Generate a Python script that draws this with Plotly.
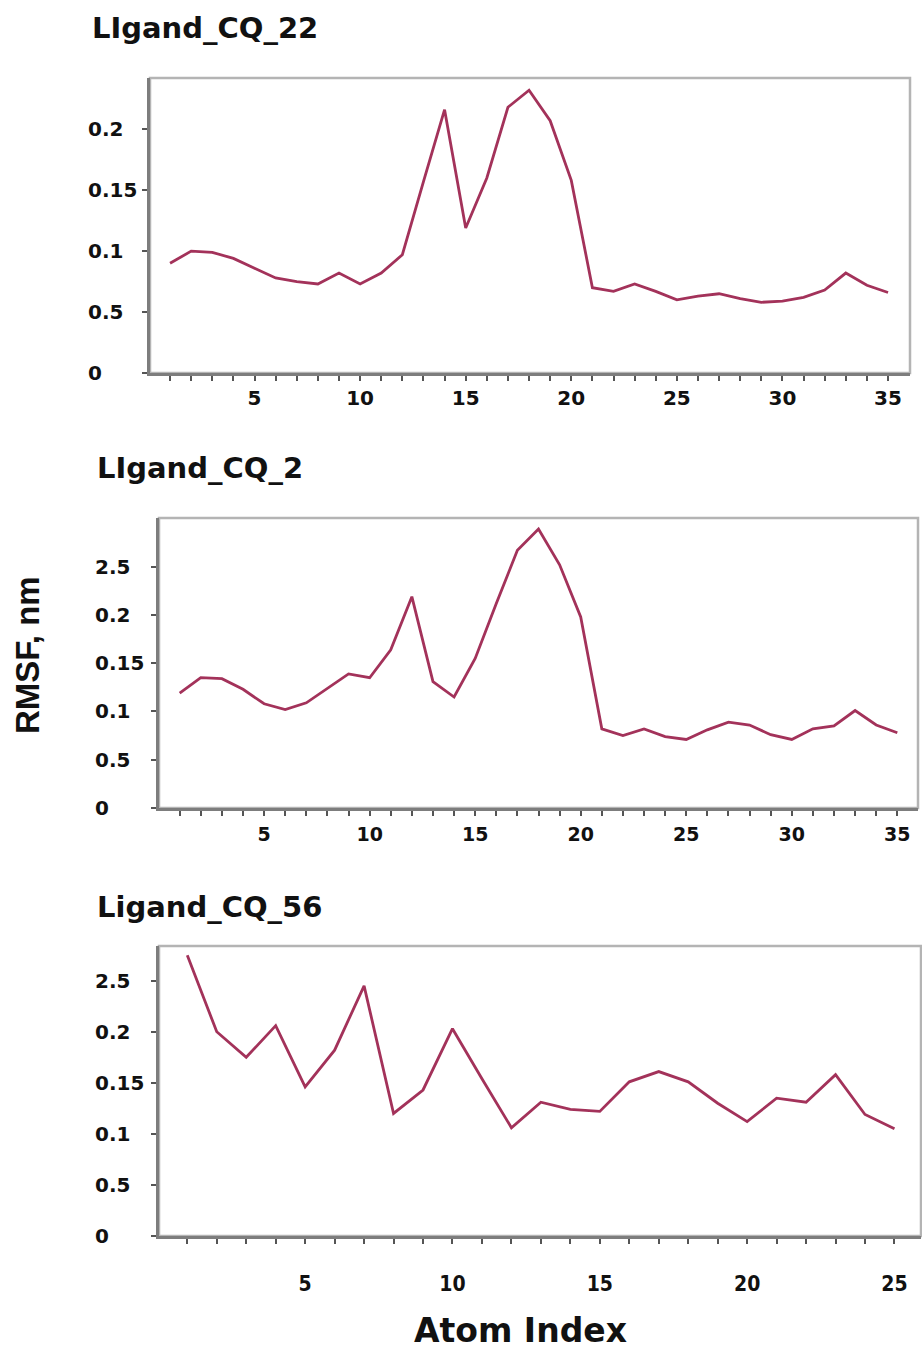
import plotly.graph_objects as go

# ---------------- data ----------------
atoms_35 = list(range(1, 36))
atoms_25 = list(range(1, 26))

rmsf_cq22 = [0.090, 0.100, 0.099, 0.094, 0.086, 0.078, 0.075, 0.073, 0.082, 0.073,
             0.082, 0.097, 0.157, 0.216, 0.119, 0.160, 0.218, 0.232, 0.207, 0.158,
             0.070, 0.067, 0.073, 0.067, 0.060, 0.063, 0.065, 0.061, 0.058, 0.059,
             0.062, 0.068, 0.082, 0.072, 0.066]

rmsf_cq2 = [0.119, 0.135, 0.134, 0.123, 0.108, 0.102, 0.109, 0.124, 0.139, 0.135,
            0.164, 0.219, 0.131, 0.115, 0.155, 0.212, 0.267, 0.289, 0.252, 0.198,
            0.082, 0.075, 0.082, 0.074, 0.071, 0.081, 0.089, 0.086, 0.076, 0.071,
            0.082, 0.085, 0.101, 0.086, 0.078]

rmsf_cq56 = [0.275, 0.200, 0.175, 0.206, 0.146, 0.182, 0.245, 0.120, 0.143, 0.203,
             0.154, 0.106, 0.131, 0.124, 0.122, 0.151, 0.161, 0.151, 0.130, 0.112,
             0.135, 0.131, 0.158, 0.119, 0.105]

titles = ["LIgand_CQ_22", "LIgand_CQ_2", "Ligand_CQ_56"]

ytick_vals_1 = [0, 0.05, 0.10, 0.15, 0.20]
ytick_text_1 = ["0", "0.5", "0.1", "0.15", "0.2"]
ytick_vals_23 = [0, 0.05, 0.10, 0.15, 0.20, 0.25]
ytick_text_23 = ["0", "0.5", "0.1", "0.15", "0.2", "2.5"]

x_label_step = 5

# ---------------- styling / layout ----------------
W, H = 922, 1350
LINE_COLOR = "#a3325a"
BOLD = "DejaVu Sans"
NARROW = "Liberation Sans Narrow, DejaVu Sans Condensed, DejaVu Sans"

def px_x(p):
    return p / W

def px_y(p):
    return 1 - p / H

panels = [
    dict(x=atoms_35, y=rmsf_cq22, xdom=(150, 910), ydom=(78, 373),
         xr=[0.05, 36.04], yr=[0, 0.242], yt=(ytick_vals_1, ytick_text_1),
         lab_x=86, title_xy=(90, 28), xfont=BOLD, xsize=20, standoff=0),
    dict(x=atoms_35, y=rmsf_cq2, xdom=(159, 918), ydom=(518, 808),
         xr=[0.02, 35.98], yr=[0, 0.3005], yt=(ytick_vals_23, ytick_text_23),
         lab_x=93, title_xy=(95, 468), xfont=BOLD, xsize=19, standoff=2),
    dict(x=atoms_25, y=rmsf_cq56, xdom=(159, 921), ydom=(946, 1236),
         xr=[0.04, 25.9], yr=[0, 0.284], yt=(ytick_vals_23, ytick_text_23),
         lab_x=93, title_xy=(95, 907), xfont=NARROW, xsize=21, standoff=22),
]

fig = go.Figure()
annotations = []
shapes = []

for i, p in enumerate(panels, start=1):
    xa = "x" if i == 1 else f"x{i}"
    ya = "y" if i == 1 else f"y{i}"
    fig.add_trace(go.Scatter(x=p["x"], y=p["y"], mode="lines",
                             line=dict(color=LINE_COLOR, width=2.8),
                             xaxis=xa, yaxis=ya, showlegend=False,
                             hoverinfo="x+y"))
    xkey = "xaxis" if i == 1 else f"xaxis{i}"
    ykey = "yaxis" if i == 1 else f"yaxis{i}"
    tickvals = p["x"]
    ticktext = [str(v) if v % x_label_step == 0 else "" for v in tickvals]
    fig.update_layout({
        xkey: dict(domain=[px_x(p["xdom"][0]), px_x(p["xdom"][1])],
                   range=p["xr"], anchor=ya, showgrid=False, zeroline=False,
                   showline=True, linecolor="#7d7d7d", linewidth=3,
                   ticks="outside", ticklen=5, tickwidth=2, tickcolor="#555555",
                   tickmode="array", tickvals=tickvals, ticktext=ticktext,
                   ticklabelstandoff=p["standoff"],
                   tickfont=dict(family=p["xfont"], size=p["xsize"],
                                 color="#111111", weight="bold")),
        ykey: dict(domain=[px_y(p["ydom"][1]), px_y(p["ydom"][0])],
                   range=p["yr"], anchor=xa, showgrid=False, zeroline=False,
                   showline=True, linecolor="#7d7d7d", linewidth=3,
                   ticks="outside", ticklen=5, tickwidth=2, tickcolor="#555555",
                   tickmode="array", tickvals=p["yt"][0], showticklabels=False),
    })
    # light frame (top / right)
    shapes.append(dict(type="rect", xref=f"{xa} domain", yref=f"{ya} domain",
                       x0=0, x1=1, y0=0, y1=1, layer="below",
                       line=dict(color="#b4b4b4", width=2.5)))
    # left-aligned y tick labels
    for v, t in zip(*p["yt"]):
        annotations.append(dict(x=px_x(p["lab_x"]), xref="paper", y=v, yref=ya,
                                text=t, showarrow=False, xanchor="left",
                                yanchor="middle",
                                font=dict(family=BOLD, size=20, color="#111111",
                                          weight="bold")))
    # panel title
    tx, ty = p["title_xy"]
    annotations.append(dict(x=px_x(tx), y=px_y(ty), xref="paper", yref="paper",
                            text=titles[i - 1], showarrow=False, xanchor="left",
                            yanchor="middle",
                            font=dict(family=BOLD, size=29, color="#111111",
                                      weight="bold")))

# axis titles
annotations.append(dict(x=px_x(27), y=px_y(655), xref="paper", yref="paper",
                        text="RMSF, nm", showarrow=False, textangle=-90,
                        xanchor="center", yanchor="middle",
                        font=dict(family="Liberation Sans, Arial", size=33,
                                  color="#111111", weight="bold")))
annotations.append(dict(x=px_x(520), y=px_y(1330), xref="paper", yref="paper",
                        text="Atom Index", showarrow=False,
                        xanchor="center", yanchor="middle",
                        font=dict(family=BOLD, size=33, color="#111111",
                                  weight="bold")))

fig.update_layout(width=W, height=H, margin=dict(l=0, r=0, t=0, b=0),
                  paper_bgcolor="white", plot_bgcolor="white",
                  annotations=annotations, shapes=shapes, showlegend=False)

fig.write_html("out.html", config={"displayModeBar": False},
               post_script="document.body.style.margin='0';document.body.style.padding='0';")
